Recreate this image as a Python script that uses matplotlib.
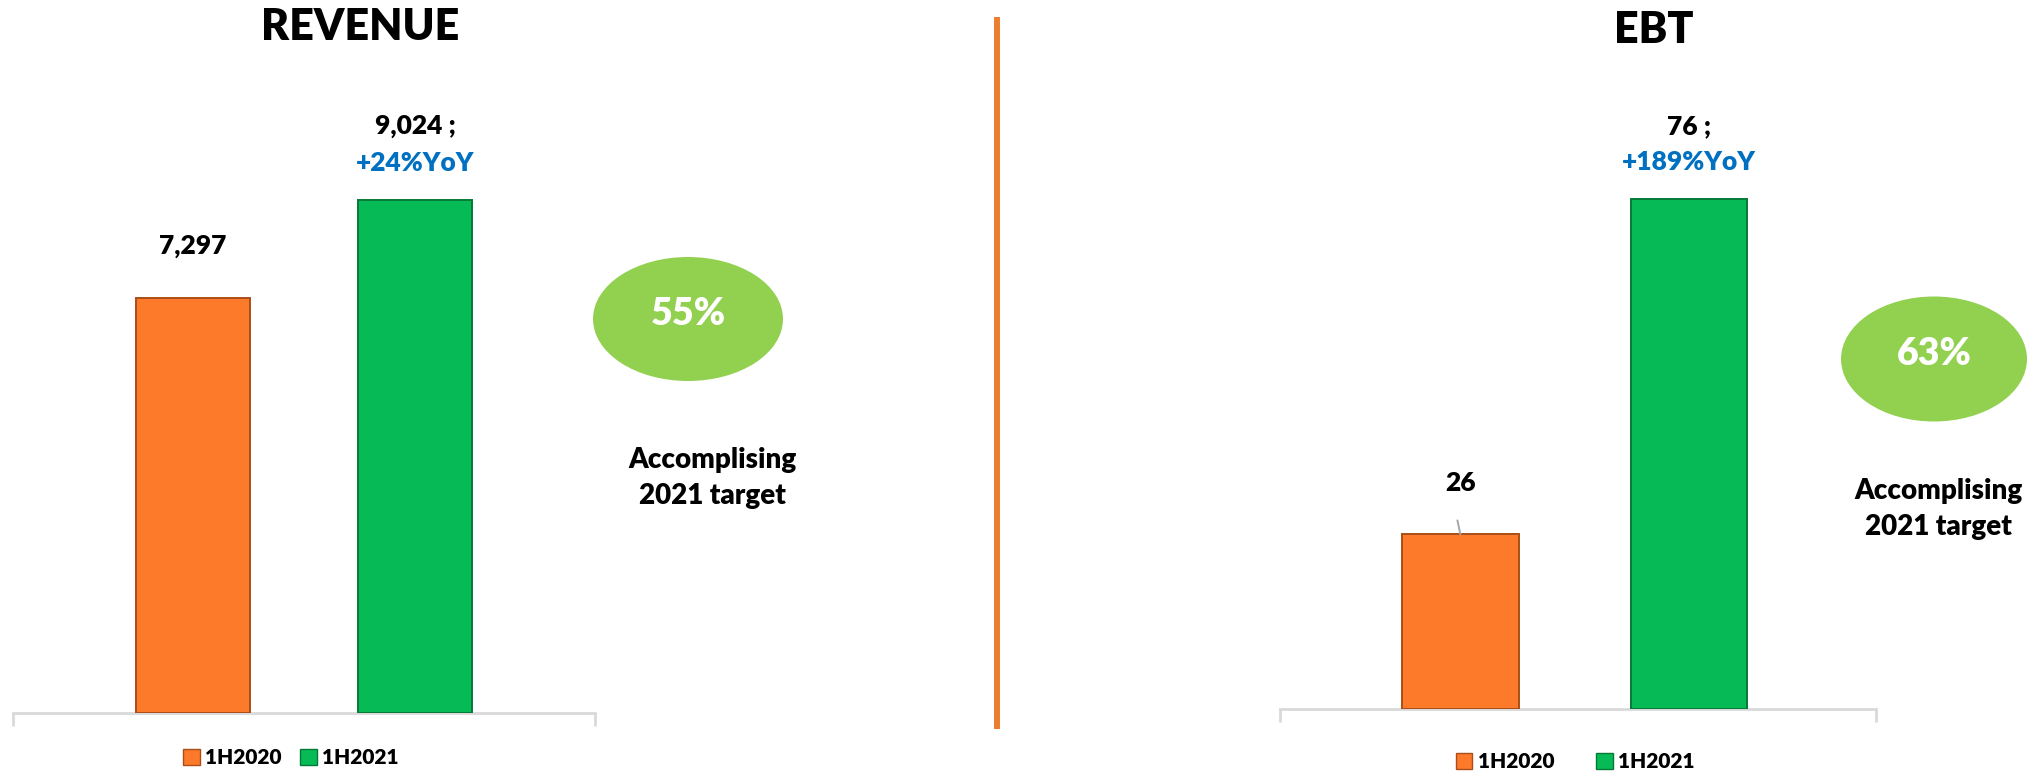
import matplotlib
matplotlib.use("Agg")
import matplotlib.pyplot as plt
from matplotlib.patches import Ellipse, Patch
from matplotlib.lines import Line2D

# chart data
periods = ["1H2020", "1H2021"]
revenue = [7297, 9024]
ebt = [26, 76]
revenue_yoy = "+24%YoY"
ebt_yoy = "+189%YoY"
revenue_target = "55%"
ebt_target = "63%"
target_note = "Accomplising\n2021 target"

W, H = 2043, 771
ORANGE = "#FD7A2A"
GREEN = "#06BB55"
EDGE = ["#A94E18", "#047A37"]
LIGHT_GREEN = "#92D050"
BLUE = "#0070C0"
AXIS_GREY = "#D9D9D9"
WEIGHT = "heavy"

plt.rcParams["font.family"] = ["Lato", "DejaVu Sans"]
plt.rcParams["font.weight"] = "bold"


def fx(x):
    return x / W


def fy(y):
    return 1 - y / H


def pt(pixels):
    # pixel offset -> points at dpi 100
    return pixels * 72 / 100


def drawPanel(fig, values, rect, xlim, title, title_xy, yoy, target, ell,
              note_xy, legend_xy, colspace, label_gaps, leader=False):
    x0, y_top, x1, y_base = rect
    ax = fig.add_axes([fx(x0), fy(y_base), (x1 - x0) / W, (y_base - y_top) / H])
    xs = range(len(values))
    ax.bar(xs, values, width=0.51, color=[ORANGE, GREEN],
           edgecolor=EDGE, linewidth=1.4, zorder=3)
    ax.set_xlim(*xlim)
    ax.set_ylim(0, max(values) * 1.35)

    for side in ["top", "left", "right"]:
        ax.spines[side].set_visible(False)
    ax.spines["bottom"].set_color(AXIS_GREY)
    ax.spines["bottom"].set_linewidth(2)
    ax.set_yticks([])
    ax.set_xticks(list(xlim))
    ax.tick_params(axis="x", length=9, width=2, color=AXIS_GREY, labelbottom=False)

    # value labels
    ax.annotate(f"{values[0]:,}", (0, values[0]), xytext=(0, pt(label_gaps[0])),
                textcoords="offset points", ha="center", va="center",
                fontsize=19, fontweight=WEIGHT, color="black")
    ax.annotate(f"{values[1]:,} ;", (1, values[1]), xytext=(0, pt(label_gaps[1])),
                textcoords="offset points", ha="center", va="center",
                fontsize=19, fontweight=WEIGHT, color="black")
    ax.annotate(yoy, (1, values[1]), xytext=(0, pt(label_gaps[2])),
                textcoords="offset points", ha="center", va="center",
                fontsize=19, fontweight=WEIGHT, color=BLUE)
    if leader:
        ax.annotate("", xy=(0, values[0]), xytext=(pt(-3), pt(14)),
                    textcoords="offset points",
                    arrowprops=dict(arrowstyle="-", color="#A6A6A6", lw=1.4,
                                    shrinkA=0, shrinkB=0))

    fig.text(fx(title_xy[0]), fy(title_xy[1]), title, ha="center", va="center",
             fontsize=31, fontweight=WEIGHT, color="black")

    cx, cy, ew, eh = ell
    fig.add_artist(Ellipse((fx(cx), fy(cy)), ew / W, eh / H,
                           transform=fig.transFigure, facecolor=LIGHT_GREEN,
                           edgecolor="none"))
    fig.text(fx(cx), fy(cy - 5), target, ha="center", va="center",
             fontsize=27, fontweight=WEIGHT, color="white")
    fig.text(fx(note_xy[0]), fy(note_xy[1]), target_note, ha="center", va="center",
             fontsize=20, fontweight=WEIGHT, color="black", linespacing=1.45)

    handles = [Patch(facecolor=ORANGE, edgecolor=EDGE[0]),
               Patch(facecolor=GREEN, edgecolor=EDGE[1])]
    ax.legend(handles, periods, loc="center",
              bbox_to_anchor=(fx(legend_xy[0]), fy(legend_xy[1])),
              bbox_transform=fig.transFigure, ncol=2, frameon=False,
              handlelength=0.8, handleheight=0.8, handletextpad=0.25,
              columnspacing=colspace, prop={"size": 15, "weight": WEIGHT})
    return ax


fig = plt.figure(figsize=(W / 100, H / 100), dpi=100)

drawPanel(fig, revenue, (13, 20, 595, 713), (-0.81, 1.81), "REVENUE", (360, 27),
          revenue_yoy, revenue_target, (688, 319, 190, 124), (712, 478),
          (291, 758), 0.9, (52, 74, 37))

drawPanel(fig, ebt, (1280, 20, 1876, 709), (-0.79, 1.82), "EBT", (1654, 30),
          ebt_yoy, ebt_target, (1934, 359, 186, 125), (1938, 509),
          (1575, 762), 2.0, (51, 72, 37), leader=True)

# orange divider between the two panels
fig.add_artist(Line2D([fx(997), fx(997)], [fy(20), fy(726)],
                      transform=fig.transFigure, color="#ED7D31", linewidth=4.3))

fig.savefig("out.png", dpi=100)
